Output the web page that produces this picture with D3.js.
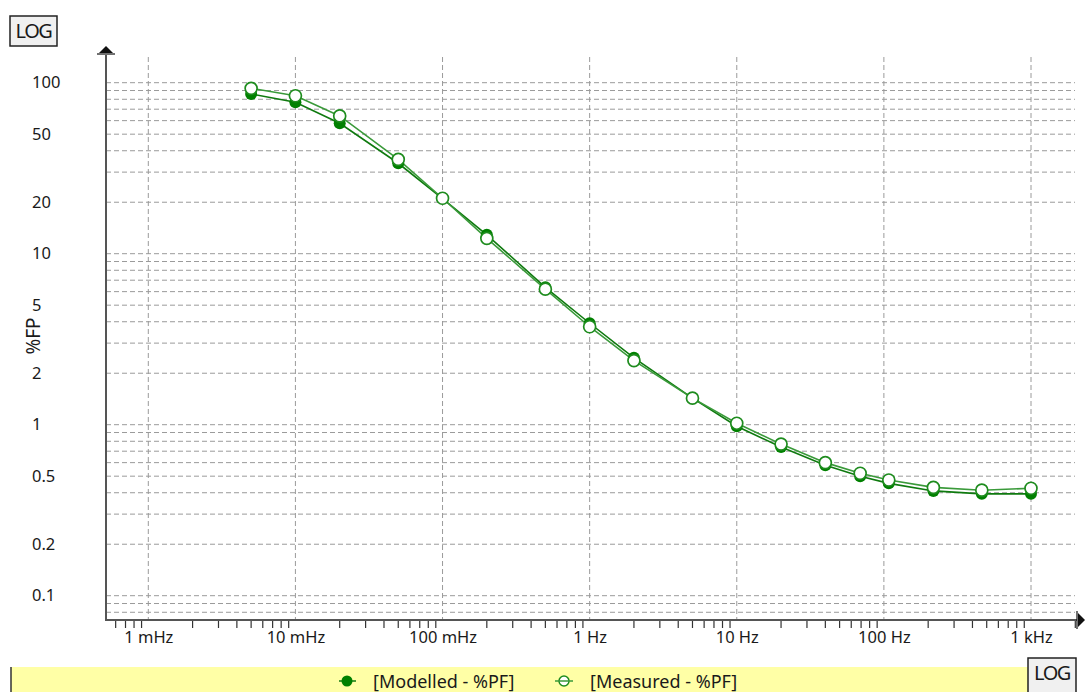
<html>
<head>
    <style>
        body { margin: 0; background: white; }
        text { font-family: 'Noto Sans', 'Open Sans', sans-serif; fill: #1a1a1a; }
        .grid line { stroke: #9a9a9a; stroke-dasharray: 5,3; stroke-width: 1; }
        .minor line { stroke: #333; stroke-width: 1.2; }
        .lineModelled { fill: none; stroke: #0f7a0f; stroke-width: 1.6; }
        .lineMeasured { fill: none; stroke: #3a9a3a; stroke-width: 1.6; }
    </style>
</head>
<body>
    <svg id="container" width="1087" height="692"></svg>

<script src="https://cdn.jsdelivr.net/npm/d3@7"></script>
<script>
    // frequency in Hz and %PF values
    let freqs = [0.005, 0.01, 0.02, 0.05, 0.1, 0.2, 0.5, 1, 2, 5, 10, 20, 40, 69, 108, 217, 463, 1000];
    let modelled = [85.9, 76.8, 57.9, 33.8, 21.0, 12.9, 6.36, 3.92, 2.46, 1.43, 0.98, 0.74, 0.58, 0.50, 0.454, 0.41, 0.394, 0.394];
    let measured = [92.7, 83.9, 63.9, 35.6, 21.1, 12.3, 6.2, 3.74, 2.37, 1.43, 1.02, 0.77, 0.60, 0.52, 0.475, 0.43, 0.414, 0.425];

    let xTicks = [0.001, 0.01, 0.1, 1, 10, 100, 1000];
    let xTickLabels = ["1 mHz", "10 mHz", "100 mHz", "1 Hz", "10 Hz", "100 Hz", "1 kHz"];
    let yTicks = [100, 50, 20, 10, 5, 2, 1, 0.5, 0.2, 0.1];
    let seriesNames = ["[Modelled - %PF]", "[Measured - %PF]"];

    let svg = d3.select("#container");

    // plot frame
    let plotLeft = 106, plotRight = 1077, plotTop = 55, plotBottom = 620;

    // Scales
    let xScale = d3.scaleLog()
        .domain([0.001, 1000])
        .range([148.3, 1031]);
    let yScale = d3.scaleLog()
        .domain([0.1, 100])
        .range([595.7, 82.7]);

    // horizontal grid: every k*10^n from the bottom of the frame up to 100
    let yGridValues = d3.scaleLog().domain([yScale.invert(plotBottom), 100]).ticks();
    svg.append("g").attr("class", "grid")
        .selectAll("line")
        .data(yGridValues)
        .join("line")
        .attr("x1", plotLeft).attr("x2", plotRight - 2)
        .attr("y1", d => yScale(d)).attr("y2", d => yScale(d));

    // vertical grid at decades
    svg.append("g").attr("class", "grid")
        .selectAll("line")
        .data(xTicks)
        .join("line")
        .attr("x1", d => xScale(d)).attr("x2", d => xScale(d))
        .attr("y1", plotTop + 2).attr("y2", plotBottom);

    // minor ticks on x axis (2..9 of each decade)
    let xMinor = d3.scaleLog().domain([xScale.invert(plotLeft + 2), xScale.invert(plotRight)]).ticks()
        .filter(d => !xTicks.some(t => Math.abs(t - d) / t < 1e-6));
    svg.append("g").attr("class", "minor")
        .selectAll("line")
        .data(xMinor)
        .join("line")
        .attr("x1", d => xScale(d)).attr("x2", d => xScale(d))
        .attr("y1", plotBottom).attr("y2", plotBottom + 8);

    // x labels
    svg.append("g")
        .attr("transform", `translate(0, ${plotBottom})`)
        .call(d3.axisBottom(xScale)
            .tickValues(xTicks)
            .tickSize(0)
            .tickPadding(11)
            .tickFormat((d, i) => xTickLabels[i]))
        .call(g => g.select(".domain").remove())
        .selectAll("text")
        .style("font-size", "16.5px")
        .style("font-family", "'Noto Sans', sans-serif")
        .attr("fill", "#1a1a1a");

    // y labels, left aligned
    svg.append("g")
        .attr("transform", `translate(${plotLeft}, 0)`)
        .call(d3.axisLeft(yScale)
            .tickValues(yTicks)
            .tickSize(0)
            .tickFormat(d => d3.format("~g")(d)))
        .call(g => g.select(".domain").remove())
        .selectAll("text")
        .attr("x", 32 - plotLeft)
        .attr("text-anchor", "start")
        .style("font-size", "16.5px")
        .style("font-family", "'Noto Sans', sans-serif")
        .attr("fill", "#1a1a1a");

    // axis lines + arrows
    svg.append("line")
        .attr("x1", plotLeft).attr("x2", plotLeft).attr("y1", plotTop).attr("y2", plotBottom + 1)
        .attr("stroke", "#555").attr("stroke-width", 2);
    svg.append("line")
        .attr("x1", plotLeft).attr("x2", plotRight).attr("y1", plotBottom).attr("y2", plotBottom)
        .attr("stroke", "#555").attr("stroke-width", 2);
    svg.append("path")
        .attr("d", `M${plotLeft},${plotTop - 9} L${plotLeft - 7},${plotTop - 2} L${plotLeft + 7},${plotTop - 2} Z`)
        .attr("fill", "#111");
    svg.append("line")
        .attr("x1", plotLeft - 9).attr("x2", plotLeft + 9).attr("y1", plotTop - 1).attr("y2", plotTop - 1)
        .attr("stroke", "#111").attr("stroke-width", 1.2);
    svg.append("path")
        .attr("d", `M${plotRight + 8},${plotBottom} L${plotRight + 1},${plotBottom - 7} L${plotRight + 1},${plotBottom + 7} Z`)
        .attr("fill", "#111");
    svg.append("line")
        .attr("x1", plotRight).attr("x2", plotRight).attr("y1", plotBottom - 9).attr("y2", plotBottom + 9)
        .attr("stroke", "#111").attr("stroke-width", 1.2);

    // y axis title
    svg.append("text")
        .attr("transform", "translate(40, 336) rotate(-90)")
        .attr("text-anchor", "middle")
        .style("font-size", "19px")
        .text("%FP");

    // series
    let modelledData = freqs.map((f, i) => ({ f: f, v: modelled[i] }));
    let measuredData = freqs.map((f, i) => ({ f: f, v: measured[i] }));

    let valueLine = d3.line()
        .x(d => xScale(d.f))
        .y(d => yScale(d.v));

    svg.append("path").datum(modelledData).attr("class", "lineModelled").attr("d", valueLine);
    svg.append("path").datum(measuredData).attr("class", "lineMeasured").attr("d", valueLine);

    svg.append("g").selectAll("circle")
        .data(modelledData)
        .join("circle")
        .attr("cx", d => xScale(d.f)).attr("cy", d => yScale(d.v))
        .attr("r", 6)
        .attr("fill", "#008000");

    svg.append("g").selectAll("circle")
        .data(measuredData)
        .join("circle")
        .attr("cx", d => xScale(d.f)).attr("cy", d => yScale(d.v))
        .attr("r", 6)
        .attr("fill", "white")
        .attr("stroke", "#1e8c1e")
        .attr("stroke-width", 1.7);

    // legend bar
    svg.append("rect")
        .attr("x", 11).attr("y", 667).attr("width", 1017).attr("height", 30)
        .attr("fill", "#ffffa6");
    svg.append("line")
        .attr("x1", 11).attr("x2", 11).attr("y1", 667).attr("y2", 692)
        .attr("stroke", "#333").attr("stroke-width", 1.5);

    let leg = svg.append("g");
    // modelled
    leg.append("line").attr("x1", 339).attr("x2", 356).attr("y1", 681).attr("y2", 681)
        .attr("stroke", "#0f7a0f").attr("stroke-width", 1.5);
    leg.append("circle").attr("cx", 347).attr("cy", 681).attr("r", 5.5).attr("fill", "#008000");
    leg.append("text").attr("x", 373).attr("y", 688).style("font-size", "18px").text(seriesNames[0]);
    // measured
    leg.append("circle").attr("cx", 564).attr("cy", 681).attr("r", 5)
        .attr("fill", "white").attr("stroke", "#1e8c1e").attr("stroke-width", 1.5);
    leg.append("line").attr("x1", 555).attr("x2", 573).attr("y1", 681).attr("y2", 681)
        .attr("stroke", "#3a9a3a").attr("stroke-width", 1.5);
    leg.append("text").attr("x", 590).attr("y", 688).style("font-size", "18px").text(seriesNames[1]);

    // LOG buttons
    function logBox(x, y, w, h) {
        svg.append("rect")
            .attr("x", x).attr("y", y).attr("width", w).attr("height", h)
            .attr("fill", "#f0f0f0").attr("stroke", "#222").attr("stroke-width", 1.5);
        svg.append("text")
            .attr("x", x + w / 2).attr("y", y + 22)
            .attr("text-anchor", "middle")
            .style("font-size", "20px")
            .style("letter-spacing", "-1.5px")
            .text("LOG");
    }
    logBox(10, 16, 47, 30);
    logBox(1028, 658, 48, 40);
</script>
</body>
</html>
